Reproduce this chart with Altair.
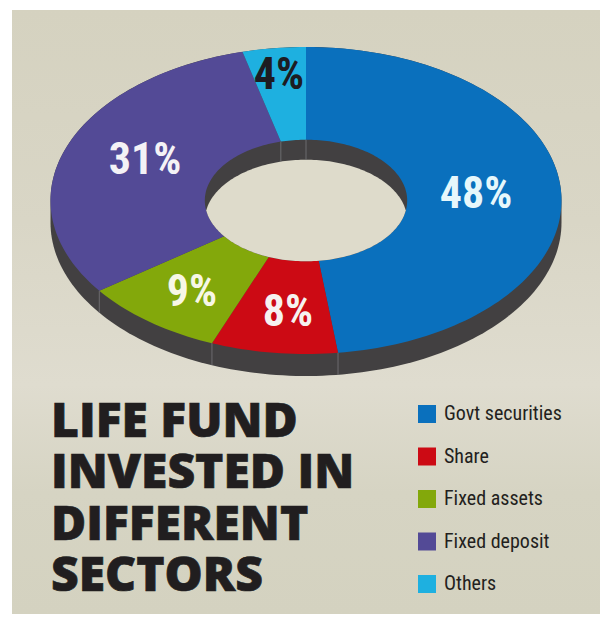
import math
import altair as alt

# Chart values
categories = ["Govt securities", "Share", "Fixed assets", "Fixed deposit", "Others"]
shares = [48, 8, 9, 31, 4]
colors = ["#0a70bd", "#cc0a14", "#83a80b", "#534a96", "#1eb0e0"]
label_texts = ["48%", "8%", "9%", "31%", "4%"]
label_colors = ["#e6f7fb", "#f6f2f0", "#f7f7e6", "#f4f2f6", "#1d1c22"]
title_lines = ["LIFE FUND", "INVESTED IN", "DIFFERENT", "SECTORS"]

# Drawing geometry of the tilted ring, in picture pixels
CX, CY, A, B = 306, 200.5, 255.5, 153.5
HOLE = 0.396
DEPTH = 22
WALL = 20
DARK = "#424041"
HOLE_FILL = "#dedbcb"
SEAM = "#77767a"
NARROW = "'Roboto Condensed', 'Open Sans Condensed', 'Noto Sans Condensed', Lato"
STEP = 1.5


def pt(t, r=1.0, dy=0.0):
    a = math.radians(t)
    return [CX + A * r * math.sin(a), CY - B * r * math.cos(a) + dy]


def sweep(t0, t1, r=1.0, dy=0.0):
    n = max(2, int(abs(t1 - t0) / STEP) + 1)
    return [pt(t0 + (t1 - t0) * i / n, r, dy) for i in range(n + 1)]


def poly(points, **props):
    return {
        "type": "Feature",
        "properties": props,
        "geometry": {"type": "Polygon", "coordinates": [points + [points[0]]]},
    }


def seg(p, q):
    return {
        "type": "Feature",
        "properties": {},
        "geometry": {"type": "LineString", "coordinates": [p, q]},
    }


# Wedges follow the shares, clockwise from twelve o'clock
wedges, edges = [], []
start = 0.0
for name, share in zip(categories, shares):
    end = start + share * 3.6
    wedges.append(poly(sweep(start, end) + sweep(end, start, HOLE), name=name))
    edges.append(start)
    start = end

outer_seams = [seg(pt(t), pt(t, dy=DEPTH)) for t in edges if 90 < t < 270]
inner_seams = [seg(pt(t, HOLE), pt(t, HOLE, dy=WALL)) for t in edges if t < 90 or t > 270]
side = poly(sweep(-90, 90) + sweep(90, 270, dy=DEPTH))
# The visible opening: where the hole's rim and its shifted lower rim overlap
meet = math.degrees(math.acos((WALL / 2) / (B * HOLE)))
hole = poly(sweep(-meet, meet, HOLE, WALL) + sweep(180 - meet, 180 + meet, HOLE))
panel = poly([[12, 10], [600, 10], [600, 614], [12, 614]])

PROJ = dict(type="identity", scale=1, translate=[-12, -10])


def shape(features):
    return alt.Chart(alt.InlineData(values=features)).project(**PROJ)


panel_layer = shape([panel]).mark_geoshape(
    strokeWidth=0,
    fill=alt.Gradient(
        gradient="linear",
        x1=0, x2=0, y1=0, y2=1,
        stops=[
            alt.GradientStop(color="#d5d2c0", offset=0),
            alt.GradientStop(color="#d9d6c6", offset=0.35),
            alt.GradientStop(color="#dfdccf", offset=0.62),
            alt.GradientStop(color="#d6d4c3", offset=0.8),
            alt.GradientStop(color="#d4d2c0", offset=1),
        ],
    ),
)
side_layer = shape([side]).mark_geoshape(fill=DARK, strokeWidth=0)
wedge_layer = shape(wedges).mark_geoshape(strokeWidth=0).encode(
    color=alt.Color(
        "properties.name:N",
        scale=alt.Scale(domain=categories, range=colors),
        sort=categories,
        legend=alt.Legend(
            orient="none",
            legendX=405,
            legendY=394,
            title=None,
            padding=0,
            symbolType="square",
            symbolSize=324,
            symbolStrokeWidth=0,
            symbolOpacity=1,
            labelFont=NARROW,
            labelFontSize=20,
            labelColor="#231f20",
            labelOffset=7,
            rowPadding=22.5,
        ),
    )
)
hole_layer = shape([hole]).mark_geoshape(fill=HOLE_FILL, strokeWidth=0)
seam_layer = shape(outer_seams + inner_seams).mark_geoshape(
    filled=False, stroke=SEAM, strokeWidth=0.8
)


def text_mark(text, x, y, size, color, font, weight, align="center", thicken=0):
    return (
        alt.Chart(alt.InlineData(values=[{"t": text}]))
        .mark_text(
            font=font, fontSize=size, fontWeight=weight, color=color, align=align,
            baseline="middle", stroke=color, strokeWidth=thicken,
        )
        .encode(text="t:N", x=alt.value(x - 12), y=alt.value(y - 10))
    )


label_spots = [(476, 195), (288, 313), (192, 293), (145, 161), (279, 76)]
labels = [
    text_mark(t, x, y, 44, c, NARROW, "bold")
    for t, (x, y), c in zip(label_texts, label_spots, label_colors)
]
title_marks = [
    text_mark(t, 51, 422.5 + i * 51.6, 48, "#211e1f", "Open Sans", 800, "left", 0.7)
    for i, t in enumerate(title_lines)
]

chart = alt.layer(
    panel_layer, side_layer, wedge_layer, hole_layer, seam_layer, *labels, *title_marks
).properties(
    width=588,
    height=604,
    padding={"left": 4, "top": 2, "right": 0, "bottom": 0},
    autosize=alt.AutoSizeParams(type="none"),
).configure_view(stroke=None)

chart.save("out.html", embed_options={"renderer": "svg", "actions": False})
